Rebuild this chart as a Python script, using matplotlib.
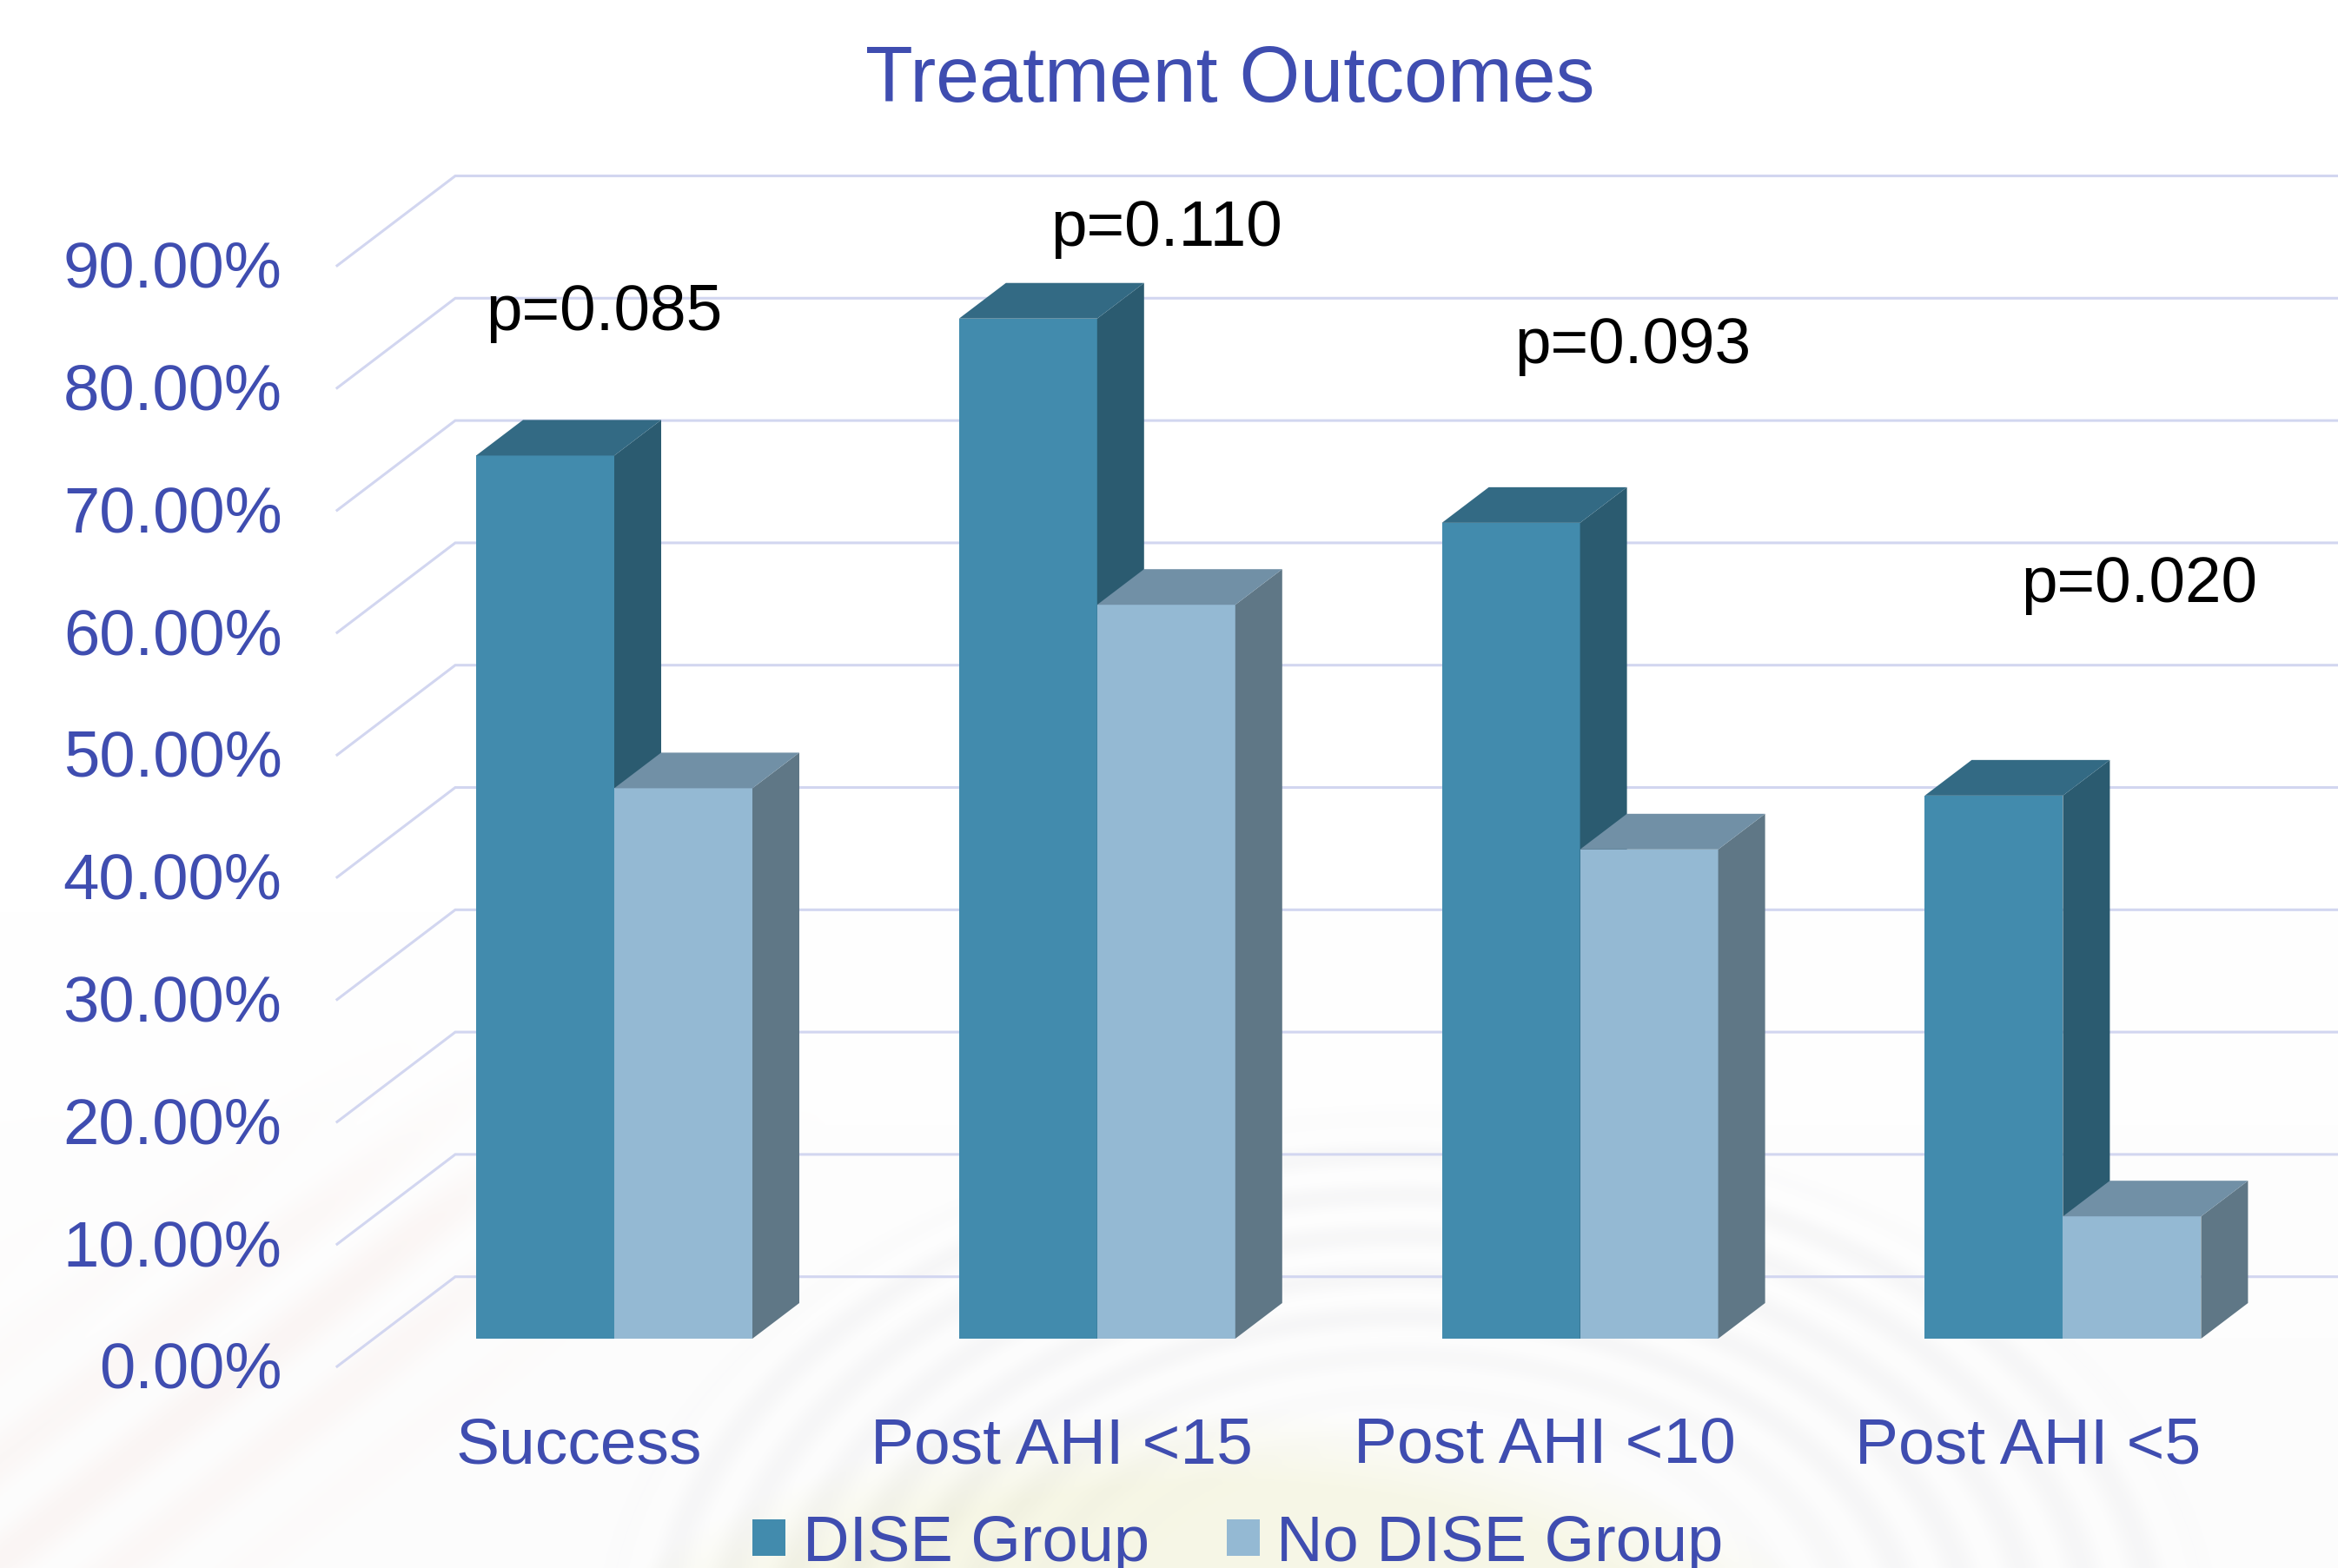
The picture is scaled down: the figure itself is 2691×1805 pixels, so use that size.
import numpy as np
import matplotlib
matplotlib.use("Agg")
import matplotlib.pyplot as plt
from matplotlib.patches import Patch

plt.rcParams['font.family'] = ['Liberation Sans', 'DejaVu Sans']

categories = ["Success", "Post AHI <15", "Post AHI <10", "Post AHI <5"]
dise_group = [72.2, 83.4, 66.7, 44.4]
no_dise_group = [45.0, 60.0, 40.0, 10.0]
series_names = ["DISE Group", "No DISE Group"]
p_labels = ["p=0.085", "p=0.110", "p=0.093", "p=0.020"]
p_heights = [82.5, 89.4, 79.8, 60.3]
p_offsets = [-0.266, -0.096, -0.136, -0.087]
y_ticks = [0, 10, 20, 30, 40, 50, 60, 70, 80, 90]
y_labels = ["%.2f%%" % t for t in y_ticks]

W, H = 2691, 1806
PX_CAT = 555.8      # pixels per category
PX_PCT = 14.08      # pixels per percent
X0, Y0 = 707.0, 1542.0  # pixel position of category 0 centre, 0 %

C_TEXT = "#3F4DB0"
C_GRID = "#D2D6F0"
DARK = dict(front="#428BAD", side="#2B5B70", top="#336A84")
LIGHT = dict(front="#94B9D3", side="#5F7786", top="#7190A6")

fig = plt.figure(figsize=(W / 100, H / 100), dpi=100, facecolor="white")

# --- faint decorative background ------------------------------------------
bg = fig.add_axes([0, 0, 1, 1], zorder=0)
yy, xx = np.mgrid[0:H, 0:W].astype(float)
r = np.hypot((xx - 1620) / 950, (yy - 1900) / 630)
rings = np.clip((1 - r) * 12, 0, 1) * np.clip((r - 0.35) * 4, 0, 1)
ripple = 0.5 + 0.5 * np.sin(r * 85)
dome = np.clip((1 - np.hypot((xx - 1400) / 820, (yy - 2060) / 440)) * 5, 0, 1)
diag = (xx * 0.62 + yy * 0.79 - 1490) / 60
haze = np.exp(-((yy + xx * 0.72 - 1780) / 210) ** 2) * np.clip((950 - xx) / 500, 0, 1) * np.clip((yy - 1150) / 250, 0, 1)
img = np.ones((H, W, 3))
base = np.clip((yy - 1050) / 500, 0, 1) * 0.008
img -= base[..., None]
img -= (rings * ripple * 0.028)[..., None] * np.array([0.9, 0.9, 0.8])
img -= dome[..., None] * np.array([0.025, 0.025, 0.09])
img -= (haze * (0.5 + 0.5 * np.sin(diag * 4)))[..., None] * np.array([0.01, 0.03, 0.035])
bg.imshow(np.clip(img, 0, 1), aspect="auto", interpolation="bilinear")
bg.axis("off")

# --- chart axes: x in category units, y in percent -------------------------
ax = fig.add_axes([0, 0, 1, 1], zorder=1)
ax.patch.set_alpha(0)
ax.set_xlim(-X0 / PX_CAT, (W - X0) / PX_CAT)
ax.set_ylim((Y0 - H) / PX_PCT, Y0 / PX_PCT)
ax.axis("off")

bar_w = 159.0 / PX_CAT
dx, dy = 54.0 / PX_CAT, 41.0 / PX_PCT
wall_x = (524 - X0) / PX_CAT
wall_dy = (Y0 - 1470.7) / PX_PCT
front_x = (388 - X0) / PX_CAT
front_dy = (Y0 - 1574) / PX_PCT
xmax = ax.get_xlim()[1]

for t, lab in zip(y_ticks, y_labels):
    ax.plot([front_x, wall_x, xmax], [t + front_dy, t + wall_dy, t + wall_dy],
            color=C_GRID, lw=2.2, solid_joinstyle="miter", zorder=1)
    ax.text((324.5 - X0) / PX_CAT, t + front_dy - 24 / PX_PCT, lab, ha="right",
            va="baseline", fontsize=53.6, color=C_TEXT, zorder=5)


def bars3d(xs, vals, cols):
    ax.bar(xs, vals, width=bar_w, align="edge", color=cols["front"], lw=0, zorder=3)
    for x, v in zip(xs, vals):
        ax.fill([x + bar_w, x + bar_w + dx, x + bar_w + dx, x + bar_w],
                [0, dy, v + dy, v], color=cols["side"], lw=0, zorder=3)
        ax.fill([x, x + dx, x + bar_w + dx, x + bar_w],
                [v, v + dy, v + dy, v], color=cols["top"], lw=0, zorder=3)


pos = np.arange(len(categories), dtype=float)
bars3d(pos - bar_w, dise_group, DARK)
bars3d(pos, no_dise_group, LIGHT)

for x, name in zip(pos, categories):
    ax.text(x - 0.073, (Y0 - 1685) / PX_PCT, name, ha="center", va="baseline",
            fontsize=54, color=C_TEXT, zorder=5)

for x, lab, h, o in zip(pos, p_labels, p_heights, p_offsets):
    ax.text(x + o, h, lab, ha="left", va="baseline", fontsize=53.8, color="black", zorder=6)

ax.text((1416 - X0) / PX_CAT, (Y0 - 117) / PX_PCT, "Treatment Outcomes", ha="center",
        va="baseline", fontsize=64.6, color=C_TEXT, zorder=5)

handles = [Patch(color=DARK["front"], lw=0), Patch(color=LIGHT["front"], lw=0)]
ax.legend(handles, series_names, ncol=2, frameon=False, fontsize=53.3,
          labelcolor=C_TEXT, loc="lower left", bbox_to_anchor=(866 / W, 1 - 1812 / H),
          bbox_transform=ax.transAxes, borderpad=0, borderaxespad=0,
          handlelength=0.52, handleheight=0.5, handletextpad=0.26, columnspacing=1.2)

fig.savefig("out.png", dpi=100)
